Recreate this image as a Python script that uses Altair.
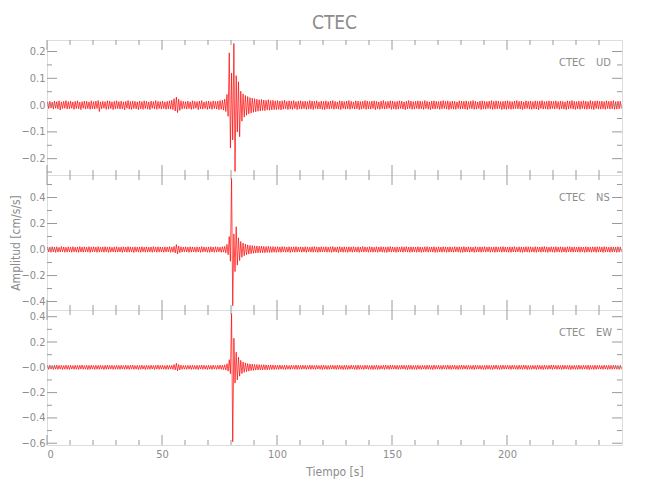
import altair as alt
import pandas as pd

# ---------------- data (amplitude envelopes per 1-s bin, units of 0.001 cm/s/s) ----------------
STATION = "CTEC"
COMPONENTS = ["UD", "NS", "EW"]
X_MAJOR = [0, 50, 100, 150, 200]
X_MINOR = [10, 20, 30, 40, 60, 70, 80, 90, 110, 120, 130, 140, 160, 170, 180, 190, 210, 220, 230, 240]

UD_UP = [12,14,11,15,13,16,12,14,17,13, 15,12,14,16,11,13,15,14,12,16, 13,15,17,12,14,13,16,15,12,14,
         16,13,15,12,14,17,13,15,14,12, 15,13,16,14,12,15,13,17,14,13, 15,12,14,16,18,24,30,22,16,14,
         13,15,12,16,14,13,15,17,12,14, 15,13,16,14,15,17,18,22,40,195, 120,230,110,87,52,42,36,32,28,26,
         24,22,20,21,19,18,20,17,18,16, 17,15,16,18,14,16,15,17,13,15, 16,14,15,13,17,15,14,16,12,15,
         14,16,13,15,17,14,12,16,15,13, 15,17,14,12,16,15,13,14,17,15, 13,15,16,14,12,15,17,13,14,16,
         15,13,14,16,15,12,14,17,15,13, 14,16,15,13,17,14,12,15,16,14, 13,15,17,14,16,13,15,14,12,16,
         15,14,16,13,15,17,14,12,15,16, 14,13,15,17,14,16,15,13,14,15, 16,14,13,15,17,14,15,12,16,14,
         15,13,16,14,15,17,13,14,16,15, 14,16,13,15,14,12,16,15,17,14, 13,15,14,16,15,13,17,14,15,16,
         14,15,13,16,14,15,17,13,15,14]
UD_LO = [13,11,15,12,14,18,13,12,15,14, 12,16,13,14,17,12,15,13,16,14, 15,13,24,14,12,16,15,13,17,14,
         13,15,14,18,12,15,16,13,14,17, 14,16,13,15,17,12,14,16,13,15, 13,16,14,15,17,22,28,20,15,13,
         15,13,16,14,12,17,14,15,13,16, 14,16,13,15,17,16,19,24,42,160, 130,248,100,118,60,45,38,33,30,27,
         25,23,22,20,21,18,19,18,17,17, 16,18,15,14,17,15,16,13,17,14, 15,13,16,14,15,17,13,15,14,16,
         17,14,15,13,16,14,15,17,13,15, 14,16,13,15,14,17,15,13,16,14, 15,13,17,14,16,13,15,14,12,16,
         14,16,15,13,15,17,14,13,16,15, 13,15,14,16,13,15,17,14,15,13, 16,14,13,15,17,14,15,16,13,15,
         14,15,17,13,14,16,15,13,17,14, 15,13,14,16,15,14,13,17,15,16, 14,16,15,13,14,15,17,14,13,15,
         16,14,15,17,13,15,14,16,15,13, 15,13,16,14,15,17,14,13,15,16, 14,16,13,15,16,14,15,17,13,15,
         15,14,16,13,15,14,16,15,14,13]

NS_UP = [20,18,22,19,21,17,23,20,18,21, 19,22,18,20,23,19,21,18,22,20, 21,19,23,18,20,22,19,21,17,20,
         22,18,20,21,19,23,20,18,21,19, 20,22,19,21,18,20,23,19,21,20, 18,21,20,22,19,24,38,26,21,19,
         21,19,22,20,18,21,19,23,20,18, 20,22,19,21,20,18,22,24,40,100, 548,120,175,90,62,50,42,36,32,30,
         28,27,25,26,24,23,25,22,23,21, 22,20,23,21,19,22,20,21,23,19, 21,19,22,20,18,21,23,20,19,22,
         20,22,19,21,23,18,20,22,19,21, 19,21,20,22,18,21,19,23,20,18, 22,20,18,21,19,22,20,19,21,23,
         20,18,21,19,22,20,23,19,21,20, 19,22,20,18,21,23,19,20,22,18, 21,19,22,20,19,21,18,22,20,21,
         20,23,19,21,20,18,22,19,21,20, 22,19,21,18,20,22,19,21,23,19, 19,21,20,22,18,21,20,19,22,21,
         21,18,22,20,19,21,23,20,18,21, 20,22,19,21,20,18,21,22,19,20, 18,21,20,19,22,20,19,21,20,22,
         21,19,22,20,18,21,20,19,22,20]
NS_LO = [19,21,18,22,20,19,17,21,20,18, 21,18,20,22,19,21,18,20,23,19, 18,22,20,19,21,18,22,20,19,21,
         20,19,22,18,21,20,19,23,18,20, 22,18,21,20,19,22,18,21,20,19, 21,19,18,22,20,26,34,24,20,18,
         19,22,20,18,21,19,22,20,18,21, 22,19,21,20,18,22,20,26,40,90, 432,170,120,85,60,48,40,35,32,29,
         27,26,25,24,25,22,23,22,21,22, 20,22,19,21,20,23,19,21,20,18, 21,19,22,18,20,21,19,22,20,19,
         19,21,20,22,18,20,23,19,21,20, 22,18,21,19,20,22,19,20,18,21, 20,21,19,22,18,20,21,23,19,20,
         18,22,20,19,21,18,20,22,20,19, 21,19,22,20,18,21,19,20,22,21, 19,21,18,22,20,19,21,18,20,22,
         22,20,19,21,18,22,20,19,21,18, 20,18,21,19,22,20,18,21,19,20, 21,22,19,20,18,21,22,19,20,21,
         19,20,22,18,21,19,20,22,18,20, 22,19,20,21,19,22,18,20,21,19, 20,21,18,22,20,19,21,18,22,20,
         19,22,20,18,21,20,19,22,20,18]

EW_UP = [15,17,14,16,18,15,16,14,17,15, 16,14,17,15,16,18,14,16,15,17, 14,16,15,17,14,16,18,15,16,14,
         17,15,16,14,17,15,16,18,14,16, 15,17,14,16,15,17,14,16,18,15, 16,14,17,15,16,22,32,22,17,15,
         14,16,15,17,14,16,15,18,16,14, 16,15,17,14,16,18,17,20,28,60, 427,230,120,80,55,42,35,30,27,25,
         23,22,21,20,21,19,18,19,18,17, 16,18,15,17,16,14,17,15,18,16, 15,17,16,14,18,16,15,17,14,16,
         17,15,14,16,17,15,18,16,14,17, 16,14,17,15,16,18,15,14,17,16, 14,16,15,17,15,14,16,18,15,17,
         17,15,16,14,17,16,15,17,16,14, 15,17,14,16,15,17,16,14,18,15, 16,14,17,15,18,15,16,17,14,16,
         18,16,15,17,14,16,17,15,16,14, 15,17,16,14,16,18,14,16,17,15, 16,15,17,16,14,17,15,18,16,15,
         14,16,15,17,16,14,17,15,16,18, 17,15,16,14,17,16,15,17,14,16, 15,17,14,16,15,17,16,14,17,15,
         16,14,17,15,16,15,17,16,14,16]
EW_LO = [16,14,17,15,16,14,18,15,16,17, 14,16,15,17,14,16,15,18,16,14, 17,15,16,14,18,15,16,14,17,15,
         15,17,14,16,15,17,14,16,15,18, 16,14,18,15,16,14,17,15,16,14, 15,17,16,14,17,20,28,20,16,15,
         16,14,17,15,16,18,14,16,15,17, 15,17,14,16,15,16,18,22,30,50, 588,125,100,70,50,40,34,30,26,24,
         22,21,20,21,19,20,18,17,18,16, 17,15,16,18,15,17,14,16,17,15, 16,14,17,15,16,15,17,14,16,18,
         15,17,16,14,15,17,16,15,18,16, 17,15,14,16,18,16,15,17,14,16, 16,18,15,17,16,14,17,15,16,15,
         14,16,17,15,14,16,18,15,17,16, 17,15,16,14,17,15,16,18,15,14, 15,17,14,16,15,17,14,16,18,15,
         16,14,17,15,16,18,15,14,16,17, 17,15,16,18,14,15,17,16,15,14, 15,17,14,16,17,15,16,14,18,16,
         16,14,18,15,16,17,15,16,14,17, 14,16,15,17,15,14,16,18,15,16, 17,15,16,14,16,18,15,17,16,14,
         15,16,14,17,15,16,14,15,17,16]

Y_DOMAINS = {"UD": [-0.261, 0.243], "NS": [-0.465, 0.573], "EW": [-0.614, 0.453]}
Y_MAJOR = {"UD": [-0.2, -0.1, 0.0, 0.1, 0.2], "NS": [-0.4, -0.2, 0.0, 0.2, 0.4],
           "EW": [-0.6, -0.4, -0.2, 0.0, 0.2, 0.4]}
Y_MINOR = {"UD": [-0.25, -0.15, -0.05, 0.05, 0.15], "NS": [-0.3, -0.1, 0.1, 0.3, 0.5],
           "EW": [-0.5, -0.3, -0.1, 0.1, 0.3]}

# ---------------- styling ----------------
FONT = "Liberation Sans Narrow, DejaVu Sans Condensed, sans-serif"
GRAY = "#8c8c8c"
FRAME = "#9a9a9a"
W, H = 575, 135

TXT = dict(labelFont=FONT, labelFontSize=11, labelColor=GRAY,
           titleFont=FONT, titleFontSize=12, titleColor=GRAY, titleFontWeight="normal")


def zigzag(up, lo):
    rows = []
    for i, (u, l) in enumerate(zip(up, lo)):
        rows.append({"t": i + 0.25, "a": u / 1000.0})
        rows.append({"t": i + 0.75, "a": -l / 1000.0})
    return pd.DataFrame(rows)


def panel(comp, up, lo, show_x=False, y_title="", main_title=False):
    xs = alt.Scale(domain=[0, 250], nice=False, zero=False)
    ys = alt.Scale(domain=Y_DOMAINS[comp], nice=False, zero=False)

    if comp == "EW":
        lab_expr = "datum.value == 0 ? '\u22120.0' : format(datum.value, '.1f')"
    else:
        lab_expr = "format(datum.value, '.1f')"
    yaxis = alt.Axis(values=Y_MAJOR[comp], labelExpr=lab_expr, ticks=False, tickSize=0,
                     domain=False, grid=False, labelPadding=2, minExtent=23, maxExtent=23,
                     titlePadding=2, title=y_title, **TXT)
    if show_x:
        xaxis = alt.Axis(values=X_MAJOR, title="Tiempo [s]", ticks=False, tickSize=0,
                         domain=False, grid=False, labelPadding=3, titlePadding=7,
                         format="d", **TXT)
    else:
        xaxis = None

    X = lambda f: alt.X(f, scale=xs, axis=xaxis)
    Y = lambda f: alt.Y(f, scale=ys, axis=yaxis)

    trace = alt.Chart(zigzag(up, lo)).mark_line(
        color="#ff0000", strokeWidth=0.7, clip=True
    ).encode(x=X("t:Q"), y=Y("a:Q"), order="t:Q")

    layers = [trace]
    xmaj = pd.DataFrame({"t": X_MAJOR})
    xmin = pd.DataFrame({"t": X_MINOR})
    ymaj = pd.DataFrame({"a": Y_MAJOR[comp]})
    ymin = pd.DataFrame({"a": Y_MINOR[comp]})
    rule = dict(color=FRAME, strokeWidth=1)
    for df, L in ((xmaj, 10), (xmin, 5)):
        layers.append(alt.Chart(df).mark_rule(**rule).encode(
            x=X("t:Q"), y=alt.value(0), y2=alt.value(L)))
        layers.append(alt.Chart(df).mark_rule(**rule).encode(
            x=X("t:Q"), y=alt.value(H), y2=alt.value(H - L)))
    for df, L in ((ymaj, 10), (ymin, 5)):
        layers.append(alt.Chart(df).mark_rule(**rule).encode(
            y=Y("a:Q"), x=alt.value(0), x2=alt.value(L)))
        layers.append(alt.Chart(df).mark_rule(**rule).encode(
            y=Y("a:Q"), x=alt.value(W), x2=alt.value(W - L)))

    lab = pd.DataFrame({"sta": [STATION], "comp": [comp]})
    layers.append(alt.Chart(lab).mark_text(
        font=FONT, fontSize=11, color=GRAY, align="left", baseline="middle"
    ).encode(text="sta:N", x=alt.value(512), y=alt.value(23)))
    layers.append(alt.Chart(lab).mark_text(
        font=FONT, fontSize=11, color=GRAY, align="left", baseline="middle"
    ).encode(text="comp:N", x=alt.value(549), y=alt.value(23)))

    if main_title:
        layers.append(alt.Chart(lab).mark_text(
            font=FONT, fontSize=19, color=GRAY, align="center", baseline="middle"
        ).encode(text="sta:N", x=alt.value(W / 2), y=alt.value(-17)))

    return alt.layer(*layers).properties(width=W, height=H)


top = panel("UD", UD_UP, UD_LO, main_title=True)
mid = panel("NS", NS_UP, NS_LO, y_title="Amplitud [cm/s/s]")
bot = panel("EW", EW_UP, EW_LO, show_x=True)

chart = alt.vconcat(top, mid, bot, spacing=0, bounds="flush").properties(
    padding={"left": 0, "top": 5, "right": 10, "bottom": 5}
).configure_view(
    stroke=FRAME, strokeWidth=1
).configure(background="white")

chart.save("out.html", embed_options={"renderer": "svg", "actions": False})
